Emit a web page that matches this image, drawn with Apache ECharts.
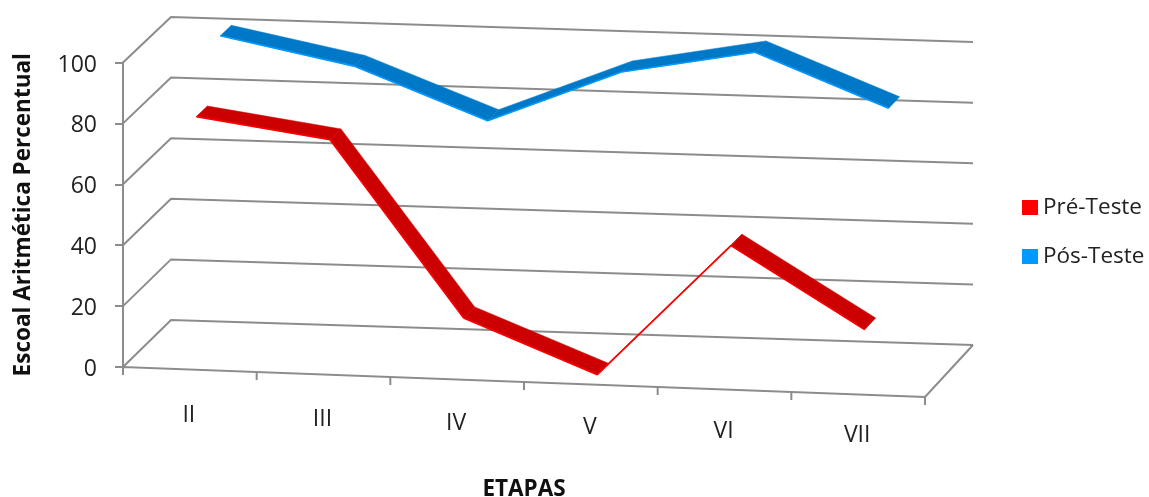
<!DOCTYPE html>
<html>
<head>
<meta charset="utf-8">
<style>html,body{margin:0;padding:0;background:#fff}#chart{width:1149px;height:497px}</style>
<script src="https://cdn.jsdelivr.net/npm/echarts@6/dist/echarts.min.js"></script>
</head>
<body>
<div id="chart"></div>
<script>
// Chart values
const categories = ['II', 'III', 'IV', 'V', 'VI', 'VII'];
const yTicks = [0, 20, 40, 60, 80, 100];
const preTest = [81, 75, 18, 1, 45, 19];
const postTest = [100, 91.5, 75, 92.5, 100.5, 83.5];

// Oblique projection used to fake the 3D box
const GRID_TOP = 62.5, GRID_HEIGHT = 304.5;
const DEPTH_X = 48, DEPTH_Y = 47, SHRINK = 0.005;
const SLOPE_FRONT = 0.0374, SLOPE_BACK = 0.0312;
const RIBBON = 11 / 48;           // ribbon thickness along the depth axis
const GRID_COLOR = '#8c8c8c';
const FONT = '"Open Sans", "Noto Sans", sans-serif';

// Moves a flat plot-area point to its place at depth t (0 = front, 1 = back)
function project(pt, left, t) {
  const slope = SLOPE_FRONT + (SLOPE_BACK - SLOPE_FRONT) * t;
  const rise = GRID_TOP + GRID_HEIGHT - pt[1];
  return [pt[0] + DEPTH_X * t, pt[1] - DEPTH_Y * t + (pt[0] - left) * slope + rise * SHRINK * t];
}

// One wall gridline per value tick: side wall, then back wall
function renderGridline(params, api) {
  const band = api.size([1, 0])[0];
  const v = api.value(0);
  const start = api.coord([0, v]); start[0] -= band / 2;
  const end = api.coord([categories.length - 1, v]); end[0] += band / 2;
  const left = start[0];
  return {
    type: 'polyline',
    shape: { points: [project(start, left, 0), project(start, left, 1), project(end, left, 1)] },
    style: { stroke: GRID_COLOR, lineWidth: 2, fill: null }
  };
}

// Floor front edge and right edge, category ticks, slanted category labels
function renderFloor(params, api) {
  const band = api.size([1, 0])[0];
  const i = api.value(0);
  const c = api.coord([i, 0]);
  const left = c[0] - band * (i + 0.5);
  const right = c[0] + band / 2;
  const a = project([right, c[1]], left, 0);
  const children = [{
    type: 'line',
    shape: { x1: a[0], y1: a[1], x2: a[0], y2: a[1] + 8 },
    style: { stroke: GRID_COLOR, lineWidth: 2 }
  }, {
    type: 'text',
    style: {
      text: categories[i], x: c[0] - 1, y: c[1] + 46 + (c[0] - left) * 0.03,
      align: 'center', verticalAlign: 'middle',
      font: '23px ' + FONT, fill: '#222'
    }
  }];
  if (i === 0) {
    const o = project([left, c[1]], left, 0);
    const endFront = project([left + band * categories.length, c[1]], left, 0);
    const endBack = project([left + band * categories.length, c[1]], left, 1);
    children.push({
      type: 'polyline',
      shape: { points: [[o[0], o[1] + 8], o, endFront, endBack] },
      style: { stroke: GRID_COLOR, lineWidth: 2, fill: null }
    });
  }
  return { type: 'group', children };
}

// A line series drawn as a ribbon lying along the depth axis, one quad per segment
function ribbonRenderer(depth, fill, edge) {
  return function (params, api) {
    const band = api.size([1, 0])[0];
    const i = api.value(0);
    const p = api.coord([i, api.value(1)]);
    const q = api.coord([i + 1, api.value(2)]);
    const left = p[0] - band * (i + 0.5);
    const t0 = depth - RIBBON / 2, t1 = depth + RIBBON / 2;
    return {
      type: 'group',
      children: [{
        type: 'polygon',
        shape: { points: [project(p, left, t0), project(q, left, t0), project(q, left, t1), project(p, left, t1)] },
        style: { fill: fill, stroke: fill, lineWidth: 0.5 }
      }, {
        type: 'line',
        shape: (function () {
          const a = project(p, left, t0), b = project(q, left, t0);
          return { x1: a[0], y1: a[1], x2: b[0], y2: b[1] };
        })(),
        style: { stroke: edge, lineWidth: 1.6 }
      }]
    };
  };
}

// Each row holds a segment: category index, start value, end value
function segments(values) {
  return values.slice(0, -1).map((v, i) => [i, v, values[i + 1]]);
}

const chart = echarts.init(document.getElementById('chart'), null, { renderer: 'canvas' });
chart.setOption({
  animation: false,
  backgroundColor: '#fff',
  textStyle: { fontFamily: FONT },
  grid: { left: 123, top: GRID_TOP, width: 802, height: GRID_HEIGHT, outerBoundsMode: 'none' },
  legend: {
    left: 1017, top: 191, orient: 'vertical', itemGap: 26,
    icon: 'rect', itemWidth: 16, itemHeight: 15,
    textStyle: { fontSize: 22.5, color: '#222', fontFamily: FONT },
    data: ['Pré-Teste', 'Pós-Teste']
  },
  xAxis: {
    type: 'category', data: categories, boundaryGap: true,
    name: 'ETAPAS', nameLocation: 'middle', nameGap: 111,
    nameTextStyle: { fontSize: 22.5, fontWeight: 'bold', color: '#111', fontFamily: FONT },
    axisLine: { show: false }, axisTick: { show: false }, axisLabel: { show: false }, splitLine: { show: false }
  },
  yAxis: {
    type: 'value', min: 0, max: 100, interval: 20,
    name: 'Escoal Aritmética Percentual', nameLocation: 'middle', nameGap: 88, nameRotate: 90,
    nameTextStyle: { fontSize: 22.5, fontWeight: 'bold', color: '#111', fontFamily: FONT },
    axisLine: { show: true, lineStyle: { color: GRID_COLOR, width: 2 } },
    axisTick: { show: true, length: 8, lineStyle: { color: GRID_COLOR, width: 2 } },
    axisLabel: {
      margin: 26,
      formatter: '{t|{value}}',
      rich: { t: { fontSize: 23, color: '#222', fontFamily: FONT, padding: [5, 0, 0, 0] } }
    },
    splitLine: { show: false }
  },
  series: [
    {
      type: 'custom', silent: true, legendHoverLink: false, z: 1,
      renderItem: renderGridline, data: yTicks.map(v => [v]),
      encode: { y: 0 }
    },
    {
      type: 'custom', silent: true, legendHoverLink: false, z: 1,
      renderItem: renderFloor, data: categories.map((c, i) => [i]),
      encode: { x: 0 }
    },
    {
      name: 'Pré-Teste', type: 'custom', z: 3,
      itemStyle: { color: '#ff0000' },
      renderItem: ribbonRenderer(0.25, '#cc0000', '#ff0000'),
      data: segments(preTest), encode: { x: 0, y: [1, 2] }
    },
    {
      name: 'Pós-Teste', type: 'custom', z: 3,
      itemStyle: { color: '#0099ff' },
      renderItem: ribbonRenderer(0.75, '#0078c8', '#0099ff'),
      data: segments(postTest), encode: { x: 0, y: [1, 2] }
    }
  ]
});
</script>
</body>
</html>
